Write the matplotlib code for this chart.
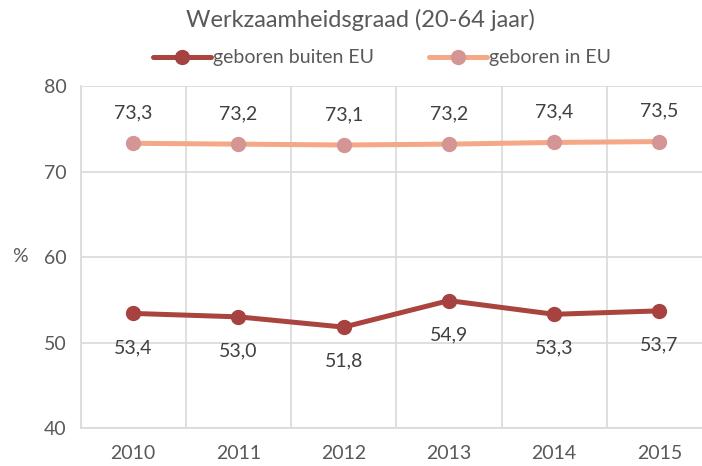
import matplotlib
matplotlib.use("Agg")
import matplotlib.pyplot as plt

years = ["2010", "2011", "2012", "2013", "2014", "2015"]
buiten_eu = [53.4, 53.0, 51.8, 54.9, 53.3, 53.7]
in_eu = [73.3, 73.2, 73.1, 73.2, 73.4, 73.5]

plt.rcParams['font.family'] = ['Lato', 'DejaVu Sans']
txt = '#595959'
grid = '#d9d9d9'
fs = 14

fig = plt.figure(figsize=(7.02, 4.66), dpi=100)
ax = fig.add_axes([80.5/702, 1-428/466, (712-80.5)/702, (428-86)/466])

x = list(range(len(years)))
l1, = ax.plot(x, buiten_eu, color='#a9443f', lw=3.6, marker='o', ms=10,
              mfc='#a64340', mec='#a64340', label='geboren buiten EU', solid_capstyle='round')
l2, = ax.plot(x, in_eu, color='#f4a886', lw=3.6, marker='o', ms=10,
              mfc='#d69595', mec='#d69595', label='geboren in EU', solid_capstyle='round')

for xi, v in zip(x, buiten_eu):
    ax.annotate(f"{v:.1f}".replace('.', ','), (xi, v), xytext=(0, -24.5), textcoords='offset points',
                ha='center', va='center', fontsize=fs, color='#404040')
for xi, v in zip(x, in_eu):
    ax.annotate(f"{v:.1f}".replace('.', ','), (xi, v), xytext=(0, 22), textcoords='offset points',
                ha='center', va='center', fontsize=fs, color='#404040')

ax.set_xlim(-0.5, 5.5)
ax.set_ylim(40, 80)
ax.set_yticks([40, 50, 60, 70, 80])
ax.set_xticks(x)
ax.set_xticklabels(years)
ax.set_xticks([i - 0.5 for i in range(7)], minor=True)
ax.grid(True, which='major', axis='y', color=grid, lw=1.2)
ax.grid(True, which='minor', axis='x', color=grid, lw=1.2)
ax.tick_params(which='both', length=0, colors=txt, labelsize=fs)
ax.tick_params(axis='x', pad=12)
ax.tick_params(axis='y', pad=10)
for s in ax.spines.values():
    s.set_visible(False)
for side in ['left', 'bottom']:
    ax.spines[side].set_visible(True)
    ax.spines[side].set_color(grid)
    ax.spines[side].set_linewidth(1.2)
ax.set_axisbelow(True)

fig.text(20/702, 1-257/466, '%', ha='center', va='center', fontsize=fs, color=txt)
fig.text(360/702, 1-20/466, 'Werkzaamheidsgraad (20-64 jaar)', ha='center', va='center',
         fontsize=17, color=txt)
fig.legend(handles=[l1, l2], loc='center', bbox_to_anchor=(382/702, 1-58/466), ncol=2,
           frameon=False, fontsize=fs, labelcolor=txt, handlelength=3.0,
           handletextpad=0.1, columnspacing=2.8)

fig.savefig('out.png', dpi=100)
